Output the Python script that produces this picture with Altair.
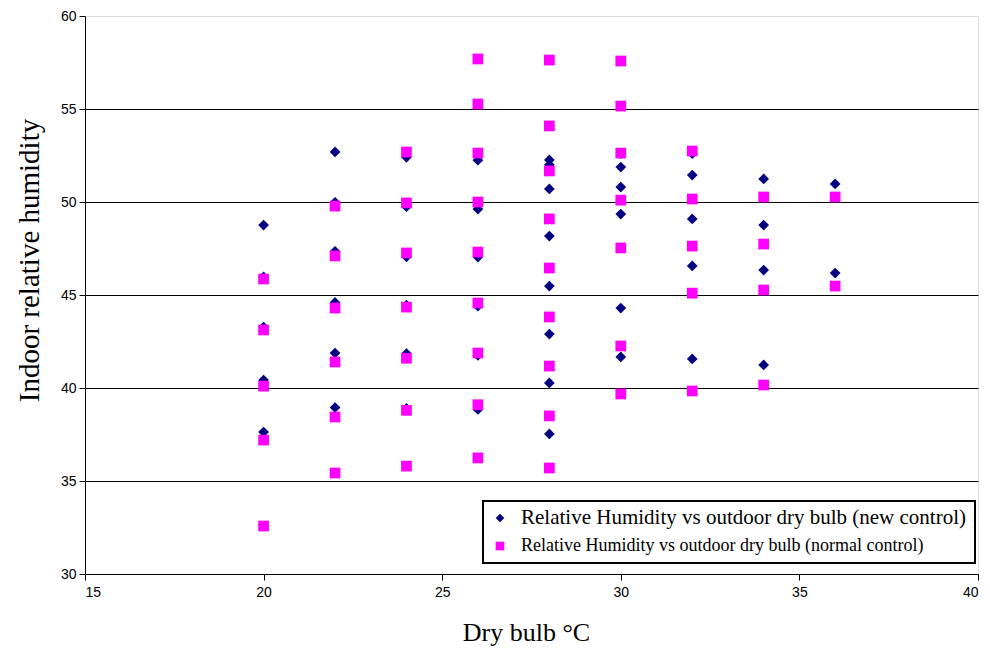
import altair as alt
import pandas as pd

temps = [20, 22, 24, 26, 28, 30, 32, 34, 36]

new_control = [
    [48.76, 45.97, 43.28, 40.43, 37.63],
    [52.69, 49.98, 47.35, 44.60, 41.88, 38.95],
    [52.40, 49.75, 47.05, 44.45, 41.85, 38.90],
    [52.25, 49.62, 47.04, 44.40, 41.75, 38.85],
    [52.26, 52.00, 50.70, 48.17, 45.48, 42.90, 40.27, 37.53],
    [52.60, 51.88, 50.80, 49.35, 44.30, 41.67],
    [52.60, 51.45, 49.09, 46.56, 41.56],
    [51.24, 48.76, 46.34, 41.24],
    [50.97, 46.18],
]

normal_control = [
    [45.86, 43.12, 40.10, 37.20, 32.58],
    [49.78, 47.10, 44.30, 41.40, 38.44, 35.43],
    [52.69, 49.95, 47.26, 44.35, 41.60, 38.80, 35.80],
    [57.69, 55.27, 52.63, 50.00, 47.31, 44.57, 41.88, 39.10, 36.24],
    [57.63, 54.09, 51.67, 49.09, 46.45, 43.82, 41.18, 38.50, 35.70],
    [57.58, 55.16, 52.63, 50.10, 47.53, 42.26, 39.68],
    [52.74, 50.16, 47.63, 45.10, 39.84],
    [50.27, 47.74, 45.27, 40.16],
    [50.27, 45.48],
]

series_names = [
    "Relative Humidity vs outdoor dry bulb (new control)",
    "Relative Humidity vs outdoor dry bulb (normal control)",
]
series_colors = ["#000080", "#FF00FF"]
series_shapes = ["diamond", "square"]

x_ticks = [15, 20, 25, 30, 35, 40]
y_ticks = [30, 35, 40, 45, 50, 55, 60]

rows = []
for name, series in zip(series_names, [new_control, normal_control]):
    for t, vals in zip(temps, series):
        for v in vals:
            rows.append({"t": t, "rh": v, "series": name})
df = pd.DataFrame(rows)

legend = alt.Legend(
    title=None,
    orient="none",
    legendX=398,
    legendY=485,
    fillColor="white",
    strokeColor="black",
    padding=8,
    rowPadding=9,
    labelFont="Liberation Serif",
    labelFontSize={"expr": "datum.index === 0 ? 21 : 18"},
    labelColor="black",
    labelLimit=0,
    labelOffset=12,
    symbolSize=75,
    symbolStrokeWidth=0,
)

chart = alt.Chart(df).mark_point(filled=True, opacity=1, size=115, strokeWidth=0).encode(
    x=alt.X(
        "t:Q",
        scale=alt.Scale(domain=[15, 40], nice=False, zero=False),
        axis=alt.Axis(
            values=x_ticks,
            grid=False,
            title="Dry bulb \u00b0C",
            titleFont="Liberation Serif",
            titleFontSize=26,
            titleFontWeight="normal",
            titleColor="black",
            titlePadding=20,
            titleX=441,
            labelFont="Liberation Sans",
            labelFontSize=14,
            labelColor="black",
            labelPadding=5,
            tickSize=6,
            tickColor="black",
            domainColor="black",
        ),
    ),
    y=alt.Y(
        "rh:Q",
        scale=alt.Scale(domain=[30, 60], nice=False, zero=False),
        axis=alt.Axis(
            values=y_ticks,
            grid=True,
            gridColor="black",
            gridOpacity={"condition": {"test": "datum.value === 60", "value": 0}, "value": 1},
            title="Indoor relative humidity",
            titleFont="Liberation Serif",
            titleFontSize=29,
            titleFontWeight="normal",
            titleColor="black",
            titlePadding=16,
            titleY=244,
            labelFont="Liberation Sans",
            labelFontSize=14,
            labelColor="black",
            labelPadding=3,
            tickSize=6,
            tickColor="black",
            domainColor="black",
        ),
    ),
    color=alt.Color("series:N", scale=alt.Scale(domain=series_names, range=series_colors), legend=legend),
    shape=alt.Shape("series:N", scale=alt.Scale(domain=series_names, range=series_shapes), legend=legend),
    order=alt.Order("series:N", sort="ascending"),
).properties(
    width=893,
    height=558,
    autosize=alt.AutoSizeParams(type="none"),
    padding={"left": 85, "top": 16, "right": 12, "bottom": 78},
).configure_view(stroke=None).configure(background="white").configure_legend(strokeWidth=2)

chart.save("out.html", embed_options={"renderer": "svg", "actions": False})
